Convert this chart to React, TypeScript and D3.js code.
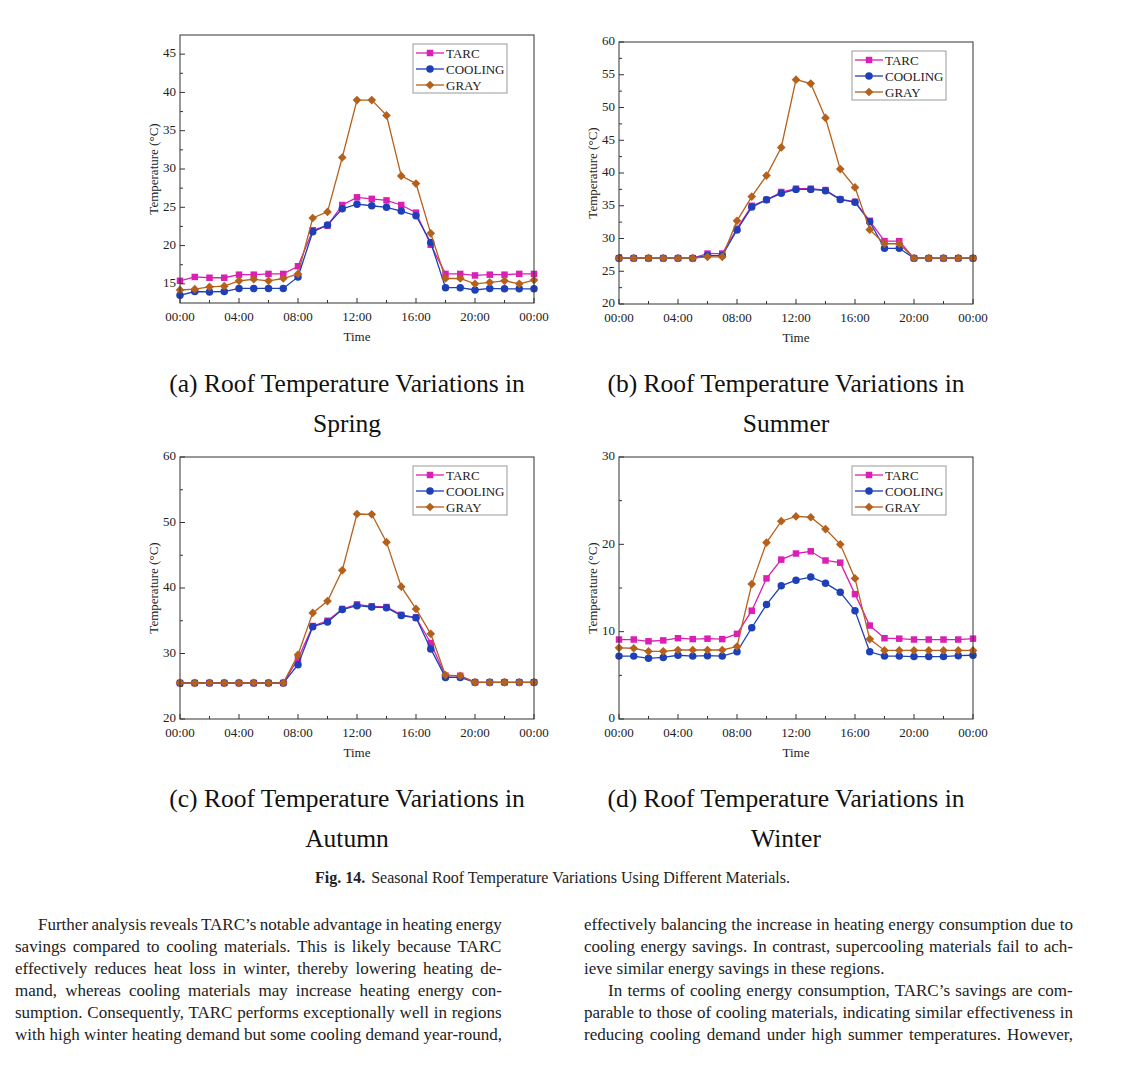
import React, { useEffect } from 'react';
import * as d3 from 'd3';

// hours of the day (0..24)
const hours = [0, 1, 2, 3, 4, 5, 6, 7, 8, 9, 10, 11, 12, 13, 14, 15, 16, 17, 18, 19, 20, 21, 22, 23, 24];
const timeTicks = [0, 4, 8, 12, 16, 20, 24];
const timeLabels = ['00:00', '04:00', '08:00', '12:00', '16:00', '20:00', '00:00'];
const timeMinor = [2, 6, 10, 14, 18, 22];

const seriesNames = ['TARC', 'COOLING', 'GRAY'];
const seriesColors = ['#d91fb4', '#1d40b8', '#b5611c'];

// (a) spring
const springTarc = [15.4, 15.9, 15.8, 15.8, 16.2, 16.2, 16.3, 16.3, 17.3, 22.0, 22.6, 25.3, 26.3, 26.1, 25.9, 25.3, 24.3, 20.1, 16.3, 16.3, 16.1, 16.2, 16.2, 16.3, 16.3];
const springCooling = [13.5, 14.0, 13.95, 14.0, 14.4, 14.4, 14.4, 14.4, 15.9, 21.8, 22.7, 24.8, 25.4, 25.2, 25.0, 24.5, 23.9, 20.4, 14.5, 14.5, 14.2, 14.4, 14.35, 14.35, 14.35];
const springGray = [14.2, 14.3, 14.6, 14.7, 15.4, 15.6, 15.4, 15.7, 16.3, 23.6, 24.4, 31.5, 39.0, 39.0, 37.0, 29.1, 28.1, 21.6, 15.7, 15.7, 15.0, 15.2, 15.4, 15.0, 15.5];

// (b) summer
const summerTarc = [27.0, 27.0, 27.0, 27.0, 27.0, 27.0, 27.7, 27.7, 31.5, 35.0, 35.9, 37.1, 37.6, 37.6, 37.4, 36.0, 35.6, 32.7, 29.6, 29.6, 27.0, 27.0, 27.0, 27.0, 27.0];
const summerCooling = [27.0, 27.0, 27.0, 27.0, 27.0, 27.0, 27.4, 27.4, 31.3, 34.8, 35.9, 36.9, 37.5, 37.5, 37.3, 35.95, 35.55, 32.55, 28.5, 28.5, 27.0, 27.0, 27.0, 27.0, 27.0];
const summerGray = [27.0, 27.0, 27.0, 27.0, 27.0, 27.0, 27.2, 27.2, 32.7, 36.4, 39.6, 43.9, 54.25, 53.65, 48.4, 40.6, 37.8, 31.35, 29.2, 29.2, 27.0, 27.0, 27.0, 27.0, 27.0];

// (c) autumn
const autumnTarc = [25.5, 25.5, 25.5, 25.5, 25.5, 25.5, 25.5, 25.5, 29.2, 34.2, 35.0, 36.8, 37.5, 37.2, 37.1, 35.9, 35.5, 31.6, 26.6, 26.6, 25.6, 25.6, 25.6, 25.6, 25.6];
const autumnCooling = [25.5, 25.5, 25.5, 25.5, 25.5, 25.5, 25.5, 25.5, 28.3, 34.1, 34.8, 36.7, 37.3, 37.1, 37.0, 35.8, 35.45, 30.7, 26.35, 26.35, 25.6, 25.6, 25.6, 25.6, 25.6];
const autumnGray = [25.5, 25.5, 25.5, 25.5, 25.5, 25.5, 25.5, 25.5, 29.8, 36.2, 38.0, 42.7, 51.3, 51.25, 47.0, 40.2, 36.8, 33.0, 26.7, 26.6, 25.6, 25.6, 25.6, 25.6, 25.6];

// (d) winter
const winterTarc = [9.1, 9.1, 8.9, 9.0, 9.25, 9.15, 9.2, 9.15, 9.75, 12.4, 16.1, 18.25, 18.95, 19.2, 18.15, 17.9, 14.3, 10.7, 9.25, 9.2, 9.1, 9.1, 9.1, 9.1, 9.2];
const winterCooling = [7.2, 7.2, 6.95, 7.05, 7.3, 7.2, 7.25, 7.2, 7.7, 10.45, 13.1, 15.25, 15.9, 16.25, 15.55, 14.5, 12.4, 7.7, 7.2, 7.2, 7.15, 7.15, 7.15, 7.25, 7.3];
const winterGray = [8.15, 8.1, 7.75, 7.75, 7.9, 7.9, 7.9, 7.9, 8.3, 15.45, 20.2, 22.65, 23.2, 23.1, 21.75, 20.0, 16.1, 9.15, 7.85, 7.85, 7.85, 7.85, 7.85, 7.85, 7.85];

const springTicks = [15, 20, 25, 30, 35, 40, 45];
const summerTicks = [20, 25, 30, 35, 40, 45, 50, 55, 60];
const autumnTicks = [20, 30, 40, 50, 60];
const winterTicks = [0, 10, 20, 30];

const bodyLeft = [
  'Further analysis reveals TARC\u2019s notable advantage in heating energy',
  'savings compared to cooling materials. This is likely because TARC',
  'effectively reduces heat loss in winter, thereby lowering heating de-',
  'mand, whereas cooling materials may increase heating energy con-',
  'sumption. Consequently, TARC performs exceptionally well in regions',
  'with high winter heating demand but some cooling demand year-round,',
];
const bodyRight = [
  'effectively balancing the increase in heating energy consumption due to',
  'cooling energy savings. In contrast, supercooling materials fail to ach-',
  'ieve similar energy savings in these regions.',
  'In terms of cooling energy consumption, TARC\u2019s savings are com-',
  'parable to those of cooling materials, indicating similar effectiveness in',
  'reducing cooling demand under high summer temperatures. However,',
];

const SERIF = '"Liberation Serif", "Times New Roman", serif';
const TICK = 13;

const panels = [
  { left: 180, top: 35, width: 354, height: 268, domain: [12.5, 47.5], ticks: springTicks, series: [springTarc, springCooling, springGray], caption: ['(a) Roof Temperature Variations in', 'Spring'], capY: 392 },
  { left: 619, top: 42, width: 354, height: 262, domain: [20, 60], ticks: summerTicks, series: [summerTarc, summerCooling, summerGray], caption: ['(b) Roof Temperature Variations in', 'Summer'], capY: 392 },
  { left: 180, top: 457, width: 354, height: 262, domain: [20, 60], ticks: autumnTicks, series: [autumnTarc, autumnCooling, autumnGray], caption: ['(c) Roof Temperature Variations in', 'Autumn'], capY: 807 },
  { left: 619, top: 457, width: 354, height: 262, domain: [0, 30], ticks: winterTicks, series: [winterTarc, winterCooling, winterGray], caption: ['(d) Roof Temperature Variations in', 'Winter'], capY: 807 },
];

const symbolPath = (i: number) => {
  if (i === 0) return d3.symbol(d3.symbolSquare, 42)() as string;
  if (i === 1) return d3.symbol(d3.symbolCircle, 44)() as string;
  return d3.symbol(d3.symbolSquare, 38)() as string; // rotated 45deg -> diamond
};

const Marker = ({ i, x, y }: { i: number; x: number; y: number }) => (
  <path
    d={symbolPath(i)}
    transform={`translate(${x},${y})${i === 2 ? ' rotate(45)' : ''}`}
    fill={seriesColors[i]}
  />
);

const Panel = ({ p }: { p: (typeof panels)[number] }) => {
  const x = d3.scaleLinear().domain([0, 24]).range([p.left, p.left + p.width]);
  const y = d3.scaleLinear().domain(p.domain).range([p.top + p.height, p.top]);
  const bottom = p.top + p.height;
  const minor = p.ticks.slice(0, -1).map((t, i) => (t + p.ticks[i + 1]) / 2);
  const line = d3
    .line<number>()
    .x((_, i) => x(hours[i]))
    .y((d) => y(d));
  const lx = p.left + p.width - 27 - 94;
  const ly = p.top + 9;
  const cx = p.left + p.width / 2;

  return (
    <g>
      {/* series */}
      {p.series.map((s, si) => (
        <g key={si}>
          <path d={line(s) as string} fill="none" stroke={seriesColors[si]} strokeWidth={1.3} />
          {s.map((v, k) => (
            <Marker key={k} i={si} x={x(hours[k])} y={y(v)} />
          ))}
        </g>
      ))}
      {/* frame */}
      <rect x={p.left} y={p.top} width={p.width} height={p.height} fill="none" stroke="#333" strokeWidth={1} />
      {/* x ticks */}
      {timeTicks.map((t, i) => (
        <g key={'xt' + i}>
          <line x1={x(t)} x2={x(t)} y1={bottom} y2={bottom - 5} stroke="#333" />
          <text x={x(t)} y={bottom + 18} textAnchor="middle" fontSize={TICK} fontFamily={SERIF} fill="#222">
            {timeLabels[i]}
          </text>
        </g>
      ))}
      {timeMinor.map((t) => (
        <line key={'xm' + t} x1={x(t)} x2={x(t)} y1={bottom} y2={bottom - 3} stroke="#333" />
      ))}
      {/* y ticks */}
      {p.ticks.map((t) => (
        <g key={'yt' + t}>
          <line x1={p.left} x2={p.left + 5} y1={y(t)} y2={y(t)} stroke="#333" />
          <text x={p.left - 4} y={y(t) - 1} dy="0.33em" textAnchor="end" fontSize={TICK} fontFamily={SERIF} fill="#222">
            {t}
          </text>
        </g>
      ))}
      {minor.map((t) => (
        <line key={'ym' + t} x1={p.left} x2={p.left + 3} y1={y(t)} y2={y(t)} stroke="#333" />
      ))}
      {/* axis titles */}
      <text x={cx} y={bottom + 38} textAnchor="middle" fontSize={13} fontFamily={SERIF} fill="#222">
        Time
      </text>
      <text
        transform={`translate(${p.left - 27},${p.top + p.height / 2}) rotate(-90)`}
        textAnchor="middle"
        dy="0.35em"
        fontSize={13}
        fontFamily={SERIF}
        fill="#222"
      >
        Temperature (°C)
      </text>
      {/* legend */}
      <rect x={lx} y={ly} width={94} height={49} fill="#fff" stroke="#999" strokeWidth={1} />
      {seriesNames.map((n, i) => {
        const ry = ly + 9 + i * 16;
        return (
          <g key={n}>
            <line x1={lx + 3} x2={lx + 31} y1={ry} y2={ry} stroke={seriesColors[i]} strokeWidth={1.3} />
            <Marker i={i} x={lx + 17} y={ry} />
            <text x={lx + 33} y={ry + 4.5} fontSize={13} fontFamily={SERIF} fill="#222">
              {n}
            </text>
          </g>
        );
      })}
      {/* sub caption */}
      <text x={cx - 10} y={p.capY} textAnchor="middle" fontSize={25.5} fontFamily={SERIF} fill="#111">
        {p.caption[0]}
      </text>
      <text x={cx - 10} y={p.capY + 40} textAnchor="middle" fontSize={25.5} fontFamily={SERIF} fill="#111">
        {p.caption[1]}
      </text>
    </g>
  );
};

let measureCtx: CanvasRenderingContext2D | null = null;
const measure = (s: string, font: string) => {
  if (!measureCtx) measureCtx = document.createElement('canvas').getContext('2d');
  measureCtx!.font = font;
  return measureCtx!.measureText(s).width;
};

const BODY_SIZE = 17;
const bodyFont = `${BODY_SIZE}px "Liberation Serif"`;

const Justified = ({ text, x, y, right, justify }: { text: string; x: number; y: number; right: number; justify: boolean }) => {
  const spaces = text.split(' ').length - 1;
  const natural = measure(text, bodyFont);
  const ws = justify && spaces > 0 ? (right - x - natural) / spaces : 0;
  return (
    <text x={x} y={y} fontSize={BODY_SIZE} fontFamily={SERIF} fill="#222" style={{ wordSpacing: `${ws}px` }}>
      {text}
    </text>
  );
};

const App = () => {
  useEffect(() => {
    document.body.style.margin = '0';
  }, []);

  return (
    <svg width={1133} height={1075} style={{ display: 'block', background: '#fff' }}>
      {panels.map((p, i) => (
        <Panel key={i} p={p} />
      ))}
      <text x={315} y={883} fontSize={16} fontFamily={SERIF} fill="#222">
        <tspan fontWeight="bold">Fig. 14.</tspan>
        <tspan dx={6}>Seasonal Roof Temperature Variations Using Different Materials.</tspan>
      </text>
      {bodyLeft.map((t, i) => (
        <Justified key={'l' + i} text={t} x={i === 0 ? 38 : 15} y={930 + i * 22} right={502} justify={true} />
      ))}
      {bodyRight.map((t, i) => (
        <Justified key={'r' + i} text={t} x={i === 3 ? 608 : 584} y={930 + i * 22} right={1073} justify={i !== 2} />
      ))}
    </svg>
  );
};

export default App;
